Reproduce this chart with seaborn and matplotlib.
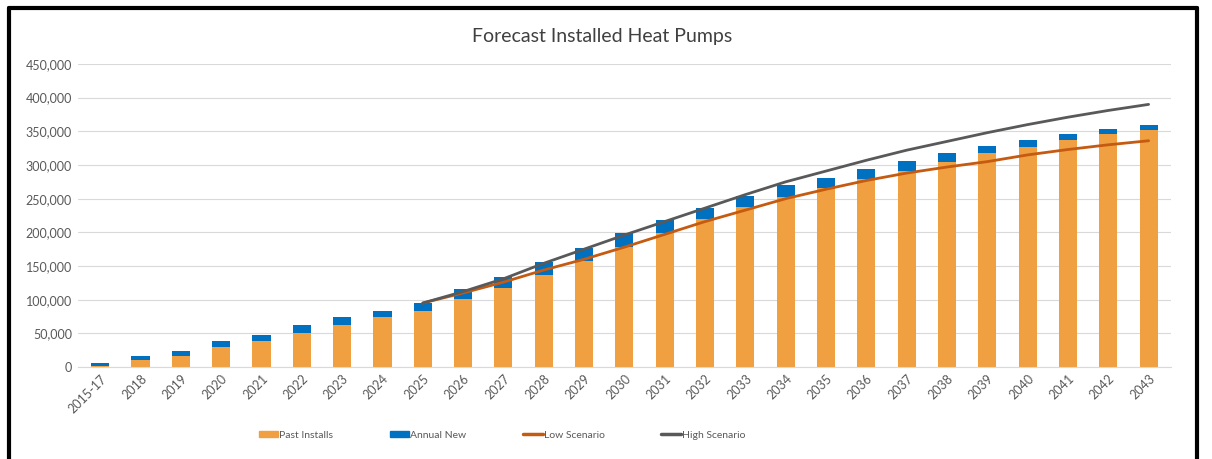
import numpy as np
import pandas as pd
import matplotlib
matplotlib.use("Agg")
import matplotlib.pyplot as plt
import seaborn as sns
from matplotlib.ticker import FuncFormatter
from matplotlib.lines import Line2D
from matplotlib.patches import Patch

# data
years = ['2015-17', '2018', '2019', '2020', '2021', '2022', '2023', '2024', '2025',
         '2026', '2027', '2028', '2029', '2030', '2031', '2032', '2033', '2034',
         '2035', '2036', '2037', '2038', '2039', '2040', '2041', '2042', '2043']
past_installs = [2000, 11000, 17000, 29000, 39000, 51000, 63000, 75000, 83000,
                 101000, 117000, 137000, 157000, 178000, 199000, 220000, 237000, 252000,
                 266000, 279000, 291000, 304000, 318000, 327000, 337000, 346000, 352000]
annual_new = [4000, 6000, 7000, 10000, 9000, 11000, 12000, 8000, 12000,
              15000, 17000, 19000, 20000, 21000, 19000, 16000, 17000, 18000,
              15000, 15000, 15000, 14000, 10000, 10000, 9000, 7000, 7000]
scen_years = ['2025', '2026', '2027', '2028', '2029', '2030', '2031', '2032', '2033',
              '2034', '2035', '2036', '2037', '2038', '2039', '2040', '2041', '2042', '2043']
low_scenario = [95000, 110000, 126000, 144000, 160000, 178000, 197000, 216000, 233000,
                250000, 264000, 277000, 288000, 297000, 305000, 315000, 323000, 330000, 336000]
high_scenario = [95000, 112000, 131000, 154000, 175000, 196000, 216000, 236000, 256000,
                 275000, 291000, 307000, 322000, 335000, 348000, 360000, 371000, 381000, 390000]

c_past = '#F0A040'
c_new = '#0070C0'
c_low = '#C55A11'
c_high = '#595959'

df = pd.DataFrame({'year': years, 'past': past_installs, 'new': annual_new})
df['total'] = df['past'] + df['new']
pos = {y: i for i, y in enumerate(years)}
sc = pd.DataFrame({'x': [pos[y] for y in scen_years], 'low': low_scenario, 'high': high_scenario})

sns.set_style('white')
plt.rcParams['font.family'] = ['Lato', 'DejaVu Sans']

fig = plt.figure(figsize=(12.12, 4.59), dpi=100)
ax = fig.add_axes([0.064, 0.2004, 0.902, 0.6602])

sns.barplot(data=df, x='year', y='total', color=c_new, width=0.45, saturation=1,
            linewidth=0, edgecolor='none', ax=ax)
sns.barplot(data=df, x='year', y='past', color=c_past, width=0.45, saturation=1,
            linewidth=0, edgecolor='none', ax=ax)
sns.lineplot(data=sc, x='x', y='low', color=c_low, linewidth=2, ax=ax)
sns.lineplot(data=sc, x='x', y='high', color=c_high, linewidth=2, ax=ax)

ax.set_xlim(-0.56, len(years) - 0.45)
ax.set_ylim(0, 450000)
ax.set_yticks(np.arange(0, 450001, 50000))
ax.yaxis.set_major_formatter(FuncFormatter(lambda v, p: f'{int(v):,}'))
ax.set_xticks(range(len(years)))
ax.set_xticklabels(years, rotation=45, ha='right', rotation_mode='anchor')
ax.tick_params(axis='both', labelsize=9, colors='#595959', length=0, pad=4)
ax.set_xlabel('')
ax.set_ylabel('')
ax.grid(axis='y', color='#D9D9D9', linewidth=0.8)
ax.set_axisbelow(True)
for s in ['top', 'right', 'left']:
    ax.spines[s].set_visible(False)
ax.spines['bottom'].set_color('#D9D9D9')

fig.text(0.497, 0.92, 'Forecast Installed Heat Pumps', ha='center', va='center',
         fontsize=14, color='#404040')

handles = [Patch(color=c_past), Patch(color=c_new),
           Line2D([], [], color=c_low, linewidth=2.5),
           Line2D([], [], color=c_high, linewidth=2.5)]
labels = ['Past Installs', 'Annual New', 'Low Scenario', 'High Scenario']
fig.legend(handles, labels, loc='center', bbox_to_anchor=(0.414, 0.052), ncol=4,
           frameon=False, fontsize=7.5, handlelength=1.9, handleheight=0.6,
           handletextpad=0.1, columnspacing=5.4, labelcolor='#595959')

# black frame around the chart
fig.add_artist(Line2D([0.0075, 0.0075], [0.0, 0.983], color='black', linewidth=3, transform=fig.transFigure))
fig.add_artist(Line2D([0.0075, 0.988], [0.983, 0.983], color='black', linewidth=3, transform=fig.transFigure))
fig.add_artist(Line2D([0.988, 0.988], [0.0, 0.983], color='black', linewidth=3, transform=fig.transFigure))

fig.savefig('out.png', dpi=100)
